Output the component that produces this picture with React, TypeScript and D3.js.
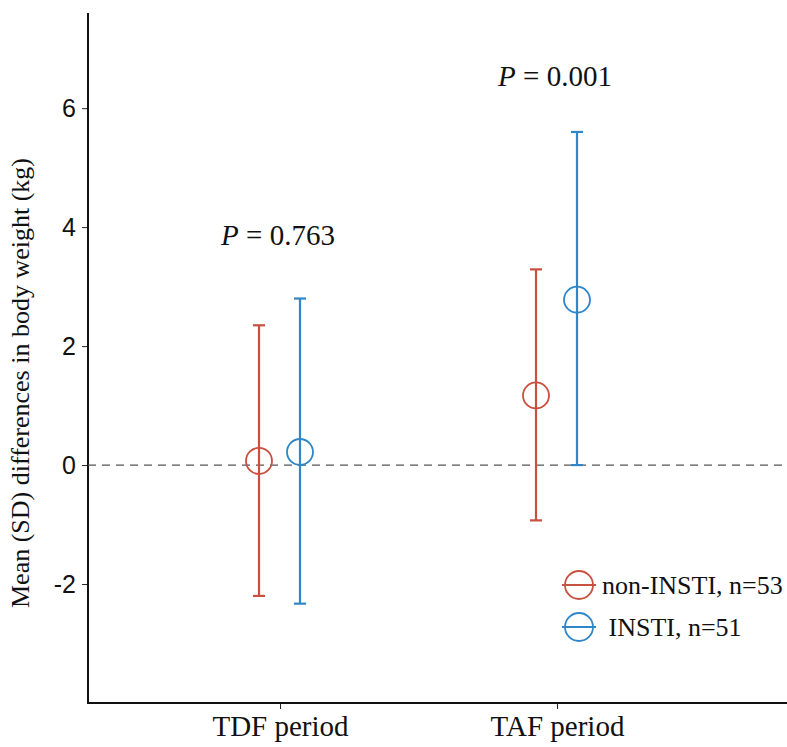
import * as d3 from "d3";
import { useEffect, useRef } from "react";

// ---- data ----
const periods = ["TDF period", "TAF period"];
const groups = ["non-INSTI, n=53", " INSTI, n=51"];
const groupColors = ["#c9503f", "#2f86c8"];
// mean, lower, upper per period, one array per group
const nonInstiMean = [0.07, 1.17];
const nonInstiLow = [-2.2, -0.93];
const nonInstiHigh = [2.35, 3.29];
const instiMean = [0.22, 2.78];
const instiLow = [-2.33, 0.0];
const instiHigh = [2.8, 5.6];
const pValues = ["0.763", "0.001"];
const pLabelAt = [3.7, 6.38]; // y value where the P text sits
const yTicks = [-2, 0, 2, 4, 6];

export default function App() {
  const ref = useRef<SVGSVGElement | null>(null);

  useEffect(() => {
    const width = 787;
    const height = 747;
    const left = 88;
    const top = 13;
    const bottom = 703;

    const svg = d3.select(ref.current);
    svg.selectAll("*").remove();
    svg.attr("viewBox", `0 0 ${width} ${height}`);

    const serif = "'Liberation Serif', 'Times New Roman', serif";
    const sans = "'Liberation Sans', Arial, sans-serif";

    // ---- scales ----
    const x = d3.scalePoint().domain(periods).range([280, 557]);
    const y = d3.scaleLinear().domain([-4, 7.6]).range([bottom, top]);
    const offset = [-21, 20];

    // ---- axes ----
    const yAxis = svg.append("g").attr("transform", `translate(${left},0)`)
      .call(d3.axisLeft(y).tickValues(yTicks).tickFormat((d) => String(d)).tickSize(6).tickSizeOuter(0));
    yAxis.select(".domain").remove();
    yAxis.selectAll("line").attr("stroke", "#222");
    yAxis.selectAll("text").attr("font-family", sans).attr("font-size", 25).attr("fill", "#111").attr("dx", -3);

    const xAxis = svg.append("g").attr("transform", `translate(0,${bottom})`)
      .call(d3.axisBottom(x).tickSize(6).tickSizeOuter(0));
    xAxis.select(".domain").remove();
    xAxis.selectAll("line").attr("stroke", "#222");
    xAxis.selectAll("text").attr("font-family", serif).attr("font-size", 29).attr("fill", "#111")
      .attr("y", 0).attr("dy", 33);

    svg.append("line").attr("x1", left).attr("x2", left).attr("y1", top).attr("y2", bottom)
      .attr("stroke", "#111").attr("stroke-width", 2);
    svg.append("line").attr("x1", left - 1).attr("x2", width).attr("y1", bottom).attr("y2", bottom)
      .attr("stroke", "#111").attr("stroke-width", 2);

    // ---- zero line ----
    svg.append("line").attr("x1", left).attr("x2", width).attr("y1", y(0)).attr("y2", y(0))
      .attr("stroke", "#555").attr("stroke-width", 1.2).attr("stroke-dasharray", "8,6");

    // ---- y title ----
    svg.append("text")
      .attr("transform", `translate(29,383) rotate(-90)`)
      .attr("text-anchor", "middle")
      .attr("font-family", serif).attr("font-size", 26).attr("fill", "#111")
      .text("Mean (SD) differences in body weight (kg)");

    // ---- error bars + points ----
    const series = [
      { mean: nonInstiMean, low: nonInstiLow, high: nonInstiHigh },
      { mean: instiMean, low: instiLow, high: instiHigh },
    ];
    series.forEach((s, gi) => {
      const color = groupColors[gi];
      const g = svg.append("g");
      periods.forEach((p, i) => {
        const cx = (x(p) as number) + offset[gi];
        g.append("line").attr("x1", cx).attr("x2", cx).attr("y1", y(s.low[i])).attr("y2", y(s.high[i]))
          .attr("stroke", color).attr("stroke-width", 2.2);
        [s.low[i], s.high[i]].forEach((v) => {
          g.append("line").attr("x1", cx - 6).attr("x2", cx + 6).attr("y1", y(v)).attr("y2", y(v))
            .attr("stroke", color).attr("stroke-width", 2.2);
        });
        g.append("circle").attr("cx", cx).attr("cy", y(s.mean[i])).attr("r", 13)
          .attr("fill", "none").attr("stroke", color).attr("stroke-width", 1.8);
      });
    });

    // ---- P values ----
    periods.forEach((p, i) => {
      const t = svg.append("text")
        .attr("x", (x(p) as number) - 2)
        .attr("y", y(pLabelAt[i]))
        .attr("text-anchor", "middle")
        .attr("font-family", serif).attr("font-size", 29).attr("fill", "#111");
      t.append("tspan").attr("font-style", "italic").text("P");
      t.append("tspan").text(` = ${pValues[i]}`);
    });

    // ---- legend ----
    groups.forEach((name, i) => {
      const ly = 585 + i * 42;
      const lg = svg.append("g");
      lg.append("circle").attr("cx", 579).attr("cy", ly).attr("r", 14)
        .attr("fill", "none").attr("stroke", groupColors[i]).attr("stroke-width", 1.8);
      lg.append("line").attr("x1", 562).attr("x2", 596).attr("y1", ly).attr("y2", ly)
        .attr("stroke", groupColors[i]).attr("stroke-width", 2);
      lg.append("text").attr("x", 602).attr("y", ly + 9)
        .attr("font-family", serif).attr("font-size", 26).attr("fill", "#111")
        .attr("xml:space", "preserve")
        .style("white-space", "pre")
        .text(name);
    });
  }, []);

  return (
    <svg
      ref={ref}
      width={787}
      height={747}
      style={{ position: "absolute", left: 0, top: 0, background: "#fff" }}
    />
  );
}
